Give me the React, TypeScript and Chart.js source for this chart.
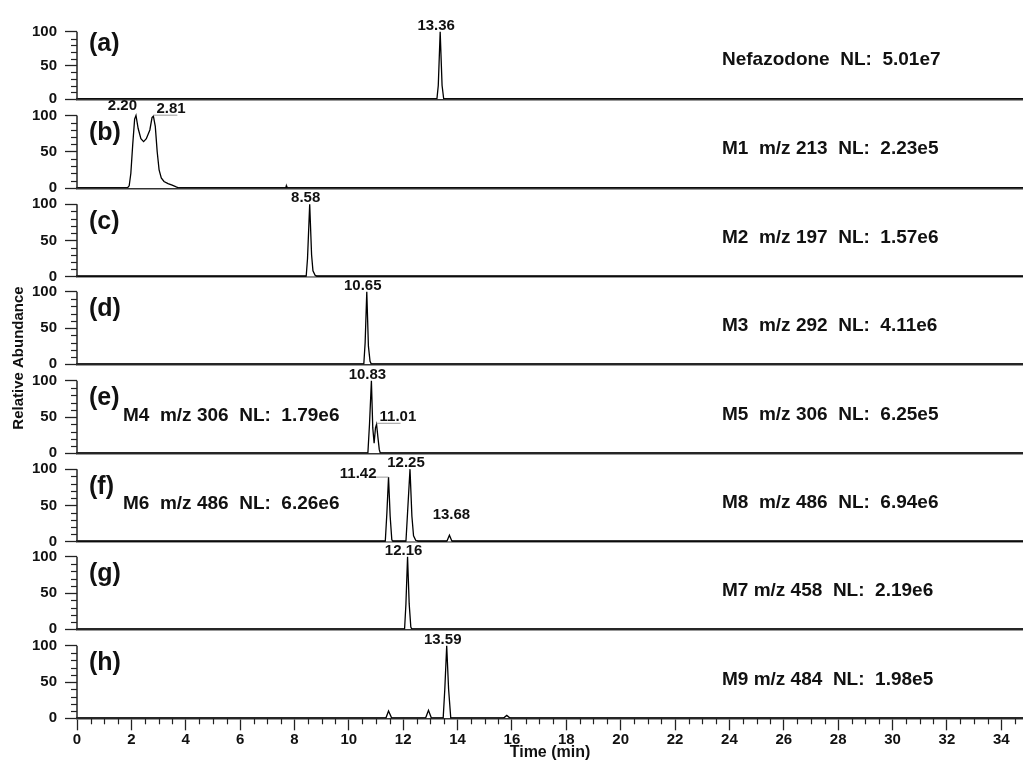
import { useEffect, useRef } from 'react';
import { Chart, registerables } from 'chart.js';

Chart.register(...registerables);

// ---------- data ----------
const TIME_MIN = 0;
const TIME_MAX = 34.8;
const X_TICKS = [0, 2, 4, 6, 8, 10, 12, 14, 16, 18, 20, 22, 24, 26, 28, 30, 32, 34];
const Y_TICKS = [0, 50, 100];
const Y_MAX = 122;

const PANEL_IDS = ['(a)', '(b)', '(c)', '(d)', '(e)', '(f)', '(g)', '(h)'];
const PANEL_RIGHT_TEXT = [
  'Nefazodone  NL:  5.01e7',
  'M1  m/z 213  NL:  2.23e5',
  'M2  m/z 197  NL:  1.57e6',
  'M3  m/z 292  NL:  4.11e6',
  'M5  m/z 306  NL:  6.25e5',
  'M8  m/z 486  NL:  6.94e6',
  'M7 m/z 458  NL:  2.19e6',
  'M9 m/z 484  NL:  1.98e5',
];
const PANEL_LEFT_TEXT = ['', '', '', '', 'M4  m/z 306  NL:  1.79e6', 'M6  m/z 486  NL:  6.26e6', '', ''];

const TRACE_A_TIME = [0, 13.24, 13.29, 13.36, 13.43, 13.49, 34.8];
const TRACE_A_ABUND = [0, 0, 20, 100, 20, 0, 0];

const TRACE_B_TIME = [0, 1.85, 1.92, 1.98, 2.05, 2.12, 2.17, 2.25, 2.35, 2.45, 2.55, 2.68, 2.76, 2.81, 2.88, 2.95, 3.02, 3.1, 3.2, 3.35, 3.5, 3.65, 3.75, 7.68, 7.7, 7.72, 34.8];
const TRACE_B_ABUND = [0, 0, 3, 20, 60, 95, 100, 82, 68, 64, 68, 80, 97, 99, 85, 50, 25, 14, 9, 6, 4, 1.5, 0, 0, 3, 0, 0];

const TRACE_C_TIME = [0, 8.43, 8.48, 8.56, 8.63, 8.68, 8.76, 8.82, 34.8];
const TRACE_C_ABUND = [0, 0, 25, 100, 30, 8, 2, 0, 0];

const TRACE_D_TIME = [0, 10.55, 10.6, 10.66, 10.72, 10.78, 10.83, 34.8];
const TRACE_D_ABUND = [0, 0, 30, 100, 25, 4, 0, 0];

const TRACE_E_TIME = [0, 10.7, 10.76, 10.83, 10.88, 10.93, 10.98, 11.02, 11.07, 11.12, 11.16, 34.8];
const TRACE_E_ABUND = [0, 0, 40, 100, 35, 14, 35, 40, 22, 5, 0, 0];

const TRACE_F_TIME = [0, 11.34, 11.4, 11.46, 11.52, 11.58, 11.62, 12.1, 12.16, 12.25, 12.32, 12.38, 12.46, 12.56, 13.6, 13.7, 13.8, 34.8];
const TRACE_F_ABUND = [0, 0, 40, 89, 35, 3, 0, 0, 40, 100, 35, 8, 2, 0, 0, 9, 0, 0];

const TRACE_G_TIME = [0, 12.05, 12.1, 12.16, 12.22, 12.28, 12.32, 34.8];
const TRACE_G_ABUND = [0, 0, 35, 100, 35, 3, 0, 0];

const TRACE_H_TIME = [0, 11.36, 11.46, 11.58, 12.82, 12.93, 13.04, 13.47, 13.53, 13.6, 13.67, 13.75, 15.68, 15.81, 15.94, 34.8];
const TRACE_H_ABUND = [0, 0, 10, 0, 0, 11, 0, 0, 40, 100, 40, 0, 0, 4, 0, 0];

// peak labels: anchor at apex (time, abundance) and text
const PEAKS_A = [{ t: 13.36, v: 100, text: '13.36' }];
const PEAKS_B = [{ t: 2.17, v: 100, text: '2.20' }, { t: 2.81, v: 99, text: '2.81' }];
const PEAKS_C = [{ t: 8.56, v: 100, text: '8.58' }];
const PEAKS_D = [{ t: 10.66, v: 100, text: '10.65' }];
const PEAKS_E = [{ t: 10.83, v: 100, text: '10.83' }, { t: 11.02, v: 40, text: '11.01' }];
const PEAKS_F = [{ t: 11.46, v: 89, text: '11.42' }, { t: 12.25, v: 100, text: '12.25' }, { t: 13.7, v: 9, text: '13.68' }];
const PEAKS_G = [{ t: 12.16, v: 100, text: '12.16' }];
const PEAKS_H = [{ t: 13.6, v: 100, text: '13.59' }];

const TRACES = [
  [TRACE_A_TIME, TRACE_A_ABUND],
  [TRACE_B_TIME, TRACE_B_ABUND],
  [TRACE_C_TIME, TRACE_C_ABUND],
  [TRACE_D_TIME, TRACE_D_ABUND],
  [TRACE_E_TIME, TRACE_E_ABUND],
  [TRACE_F_TIME, TRACE_F_ABUND],
  [TRACE_G_TIME, TRACE_G_ABUND],
  [TRACE_H_TIME, TRACE_H_ABUND],
];
const PEAKS = [PEAKS_A, PEAKS_B, PEAKS_C, PEAKS_D, PEAKS_E, PEAKS_F, PEAKS_G, PEAKS_H];

// ---------- layout / style ----------
const W = 1023;
const H = 761;
const FONT = 'Arial, "Liberation Sans", Helvetica, sans-serif';
const BASELINES = [99, 188, 276.7, 364.3, 453.3, 541.7, 629.3, 718.3];
const AREA_H = 88.5;
const AXIS_LEFT = 77;
const LABEL_MODE: Record<string, string> = {
  '2.20': 'left',
  '2.81': 'leaderRight',
  '11.01': 'leaderRight',
  '11.42': 'leaderLeft',
  '13.68': 'high',
};

function App() {
  const refs = useRef<(HTMLCanvasElement | null)[]>([]);

  useEffect(() => {
    const charts: Chart[] = [];
    for (let i = 0; i < 8; i++) {
      const canvas = refs.current[i];
      if (!canvas) continue;
      const B = BASELINES[i];
      const isLast = i === 7;
      const [tt, vv] = TRACES[i];
      const deco = {
        id: 'deco' + i,
        afterDatasetsDraw(chart: any) {
          const ctx = chart.ctx;
          const xs = chart.scales.x;
          const ys = chart.scales.y;
          const area = chart.chartArea;
          ctx.save();
          // y axis line 0..100
          ctx.strokeStyle = '#222';
          ctx.lineWidth = 1.5;
          ctx.beginPath();
          ctx.moveTo(area.left, ys.getPixelForValue(0));
          ctx.lineTo(area.left, ys.getPixelForValue(100));
          ctx.stroke();
          // minor y ticks
          ctx.lineWidth = 1.2;
          for (let v = 10; v < 100; v += 10) {
            if (v === 50) continue;
            const y = Math.round(ys.getPixelForValue(v)) + 0.5;
            ctx.beginPath();
            ctx.moveTo(area.left - 6, y);
            ctx.lineTo(area.left, y);
            ctx.stroke();
          }
          // panel id
          ctx.fillStyle = '#111';
          ctx.textBaseline = 'middle';
          ctx.textAlign = 'left';
          ctx.font = `bold 25px ${FONT}`;
          ctx.fillText(PANEL_IDS[i], area.left + 12, B - 55);
          // right text
          ctx.font = `bold 19px ${FONT}`;
          ctx.fillText(PANEL_RIGHT_TEXT[i], 722, B - 39);
          if (PANEL_LEFT_TEXT[i]) ctx.fillText(PANEL_LEFT_TEXT[i], 123, B - 38);
          // peak labels
          ctx.font = `bold 15px ${FONT}`;
          for (const p of PEAKS[i]) {
            const px = xs.getPixelForValue(p.t);
            const py = ys.getPixelForValue(p.v);
            const mode = LABEL_MODE[p.text] || 'top';
            ctx.fillStyle = '#111';
            if (mode === 'top') {
              ctx.textAlign = 'center';
              ctx.fillText(p.text, px - 4, py - 6);
            } else if (mode === 'high') {
              ctx.textAlign = 'center';
              ctx.fillText(p.text, px + 2, py - 20);
            } else if (mode === 'left') {
              ctx.textAlign = 'right';
              ctx.fillText(p.text, px + 1, py - 10);
            } else if (mode === 'leaderRight') {
              ctx.strokeStyle = '#999';
              ctx.lineWidth = 1;
              ctx.beginPath();
              ctx.moveTo(px, py - 1);
              ctx.lineTo(px + 24, py - 1);
              ctx.stroke();
              ctx.textAlign = 'left';
              ctx.fillText(p.text, px + 3, py - 7);
            } else if (mode === 'leaderLeft') {
              ctx.strokeStyle = '#999';
              ctx.lineWidth = 1;
              ctx.beginPath();
              ctx.moveTo(px - 14, py);
              ctx.lineTo(px, py);
              ctx.stroke();
              ctx.textAlign = 'right';
              ctx.fillText(p.text, px - 12, py - 3);
            }
          }
          if (isLast) {
            // minor x ticks
            ctx.strokeStyle = '#222';
            ctx.lineWidth = 1.2;
            for (let k = 1; k < TIME_MAX * 2; k++) {
              const t = k / 2;
              if (t % 2 === 0) continue;
              const x = Math.round(xs.getPixelForValue(t)) + 0.5;
              ctx.beginPath();
              ctx.moveTo(x, area.bottom);
              ctx.lineTo(x, area.bottom + 6);
              ctx.stroke();
            }
            ctx.fillStyle = '#111';
            ctx.textAlign = 'center';
            ctx.textBaseline = 'middle';
            ctx.font = `bold 16px ${FONT}`;
            ctx.fillText('Time (min)', (area.left + area.right) / 2, 753);
            ctx.save();
            ctx.translate(19, 358);
            ctx.rotate(-Math.PI / 2);
            ctx.font = `bold 15px ${FONT}`;
            ctx.fillText('Relative Abundance', 0, 0);
            ctx.restore();
          }
          ctx.restore();
        },
      };

      charts.push(
        new Chart(canvas, {
          type: 'line',
          data: {
            datasets: [
              {
                data: tt.map((t, k) => ({ x: t, y: vv[k] })),
                borderColor: '#000',
                borderWidth: 1.3,
                backgroundColor: '#fff',
                fill: 'origin',
                pointRadius: 0,
                tension: 0,
              },
            ],
          },
          options: {
            animation: false,
            responsive: false,
            events: [],
            layout: { padding: { top: B - AREA_H, bottom: isLast ? 0 : H - B, left: 0, right: 0 } },
            plugins: { legend: { display: false }, tooltip: { enabled: false } },
            scales: {
              x: {
                type: 'linear',
                min: TIME_MIN,
                max: TIME_MAX,
                afterBuildTicks: (s: any) => {
                  s.ticks = X_TICKS.map((v) => ({ value: v }));
                },
                afterFit: (s: any) => {
                  s.height = isLast ? H - B : 0;
                },
                ticks: {
                  display: isLast,
                  autoSkip: false,
                  maxRotation: 0,
                  padding: 1,
                  color: '#111',
                  font: { family: FONT, size: 15, weight: 'bold' },
                },
                grid: {
                  display: true,
                  drawOnChartArea: false,
                  drawTicks: isLast,
                  tickLength: 12,
                  tickWidth: 1.3,
                  tickColor: '#222',
                },
                border: { display: true, width: 2.5, color: '#333' },
              },
              y: {
                type: 'linear',
                min: 0,
                max: Y_MAX,
                afterBuildTicks: (s: any) => {
                  s.ticks = Y_TICKS.map((v) => ({ value: v }));
                },
                afterFit: (s: any) => {
                  s.width = AXIS_LEFT;
                },
                ticks: {
                  padding: 8,
                  color: '#111',
                  font: { family: FONT, size: 15, weight: 'bold' },
                },
                grid: {
                  drawOnChartArea: false,
                  drawTicks: true,
                  tickLength: 12,
                  tickWidth: 1.3,
                  tickColor: '#222',
                },
                border: { display: false },
              },
            },
          },
          plugins: [deco],
        } as any)
      );
    }
    return () => charts.forEach((c) => c.destroy());
  }, []);

  return (
    <div style={{ position: 'absolute', left: 0, top: 0, width: W, height: H, background: '#fff' }}>
      {PANEL_IDS.map((id, i) => (
        <canvas
          key={id}
          ref={(el) => {
            refs.current[i] = el;
          }}
          width={W}
          height={H}
          style={{ position: 'absolute', left: 0, top: 0, width: W, height: H }}
        />
      ))}
    </div>
  );
}

export default App;
